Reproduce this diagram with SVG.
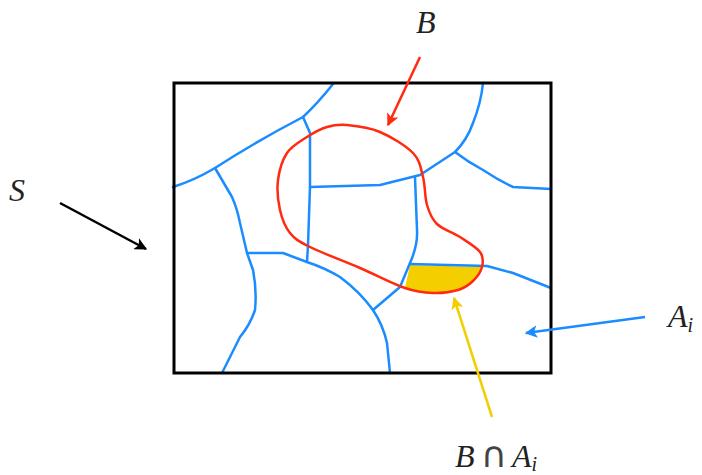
<svg xmlns="http://www.w3.org/2000/svg" width="702" height="475" viewBox="0 0 702 475">
<style>
.blue{fill:none;stroke:#1A8CFF;stroke-width:2.5;stroke-linejoin:round;stroke-linecap:round}
.red{fill:none;stroke:#FF2A10;stroke-width:2.5}
.lbl{font-family:"Liberation Serif","DejaVu Serif",serif;font-style:italic;font-size:32px;fill:#222}
.op{font-family:"DejaVu Sans","Liberation Serif",serif;font-style:normal;font-size:36px;fill:#444}
.sub{font-size:20px}
</style>
<defs>
<marker id="mk" viewBox="0 0 10 10" refX="9" refY="5" markerWidth="5" markerHeight="5" orient="auto"><path d="M0,0 L10,5 L0,10 L2.5,5 Z" fill="#000"/></marker>
<marker id="mr" viewBox="0 0 10 10" refX="9" refY="5" markerWidth="5" markerHeight="5" orient="auto"><path d="M0,0 L10,5 L0,10 L2.5,5 Z" fill="#FF2A10"/></marker>
<marker id="mb" viewBox="0 0 10 10" refX="9" refY="5" markerWidth="5" markerHeight="5" orient="auto"><path d="M0,0 L10,5 L0,10 L2.5,5 Z" fill="#1A8CFF"/></marker>
<marker id="my" viewBox="0 0 10 10" refX="9" refY="5" markerWidth="5" markerHeight="5" orient="auto"><path d="M0,0 L10,5 L0,10 L2.5,5 Z" fill="#F5CE00"/></marker>
</defs>
<g id="intersection">
<path d="M410,265 L482,267 C480.8,271.8 477,277.2 473,281 C469,284.8 464.7,288 458,290 C451.3,292 441.8,293.3 433,293 C424.2,292.7 417.2,292.2 405,288 L410,265 Z" fill="#F5CE00"/>
</g>
<g id="partition">
<path class="blue" d="M333,84 Q318,103 303,117 Q255,142 215,168 Q195,180 173,187"/>
<path class="blue" d="M303,117 L310,133 L310,187 L308,245 L307,262"/>
<path class="blue" d="M215,168 L232,197 Q237,208 240,223 L247,253 L253,270 Q257,290 255,310 Q250,325 240,337 L222,373"/>
<path class="blue" d="M247,253 L283,253 L307,262 Q325,268 340,277 Q360,292 373,310 Q383,325 387,343 L390,373"/>
<path class="blue" d="M373,310 L400,287 L410,263 Q418,245 417,230 L415,177"/>
<path class="blue" d="M410,264 L487,266 L513,273 L551,288"/>
<path class="blue" d="M310,187 L380,185 L420,175 L455,152 Q467,140 473,123 Q481,103 483,83"/>
<path class="blue" d="M455,152 Q468,162 483,170 Q498,180 513,187 L551,189"/>
</g>
<g id="B">
<path class="red" d="M347,125 C355.8,125.8 369,127.3 380,132 C391,136.7 405.8,145.5 413,153 C420.2,160.5 420.7,168.3 423,177 C425.3,185.7 424.7,197.2 427,205 C429.3,212.8 431.5,218.7 437,224 C442.5,229.3 452.8,232.3 460,237 C467.2,241.7 476.3,247 480,252 C483.7,257 483.2,262.2 482,267 C480.8,271.8 477,277.2 473,281 C469,284.8 464.7,288 458,290 C451.3,292 441.8,293.3 433,293 C424.2,292.7 417.2,292.2 405,288 C392.8,283.8 375.8,274.8 360,268 C344.2,261.2 321.7,252.8 310,247 C298.3,241.2 295,239.2 290,233 C285,226.8 282,218.8 280,210 C278,201.2 276.8,189.5 278,180 C279.2,170.5 282.2,160.2 287,153 C291.8,145.8 300.3,141.3 307,137 C313.7,132.7 320.3,129 327,127 C333.7,125 338.2,124.2 347,125 Z"/>
</g>
<g id="S">
<rect x="174" y="83" width="377" height="290" fill="none" stroke="#000" stroke-width="3"/>
</g>
<g id="connectors">
<line x1="420" y1="57" x2="388" y2="125" stroke="#FF2A10" stroke-width="2.5" marker-end="url(#mr)"/>
<line x1="60" y1="203" x2="146" y2="249" stroke="#000" stroke-width="2.5" marker-end="url(#mk)"/>
<line x1="645" y1="317" x2="526" y2="333" stroke="#1A8CFF" stroke-width="2.5" marker-end="url(#mb)"/>
<line x1="492" y1="417" x2="454" y2="298" stroke="#F5CE00" stroke-width="2.5" marker-end="url(#my)"/>
</g>
<g id="labels">
<text class="lbl" x="416" y="33">B</text>
<text class="lbl" x="9" y="201">S</text>
<text class="lbl" x="668" y="327">A<tspan class="sub" dy="5">i</tspan></text>
<text class="lbl" x="455" y="467">B<tspan class="op" dx="6">∩</tspan><tspan dx="5">A</tspan><tspan class="sub" dy="4">i</tspan></text>
</g>
</svg>
